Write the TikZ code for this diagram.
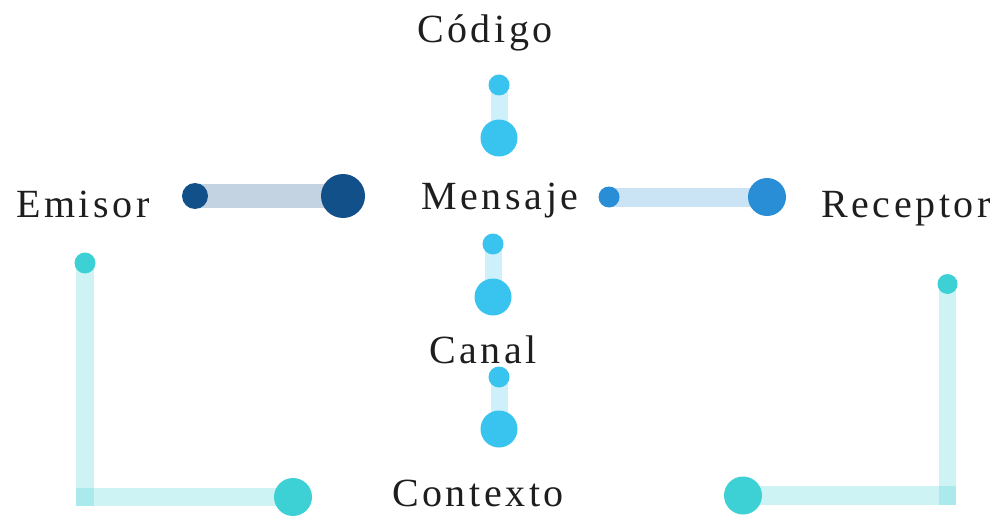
\documentclass[tikz,border=0pt]{standalone}
\usepackage{fontspec}
\setmainfont{Liberation Serif}[LetterSpace=9]
\definecolor{navy}{HTML}{12508A}
\definecolor{azure}{HTML}{2A8ED6}
\definecolor{sky}{HTML}{38C4EE}
\definecolor{teal}{HTML}{3DD0D4}
\definecolor{ink}{HTML}{1E1E1E}
\begin{document}
\begin{tikzpicture}[x=1pt,y=-1pt,
  dot/.style={circle,fill=#1,draw=none,inner sep=0pt},
  small/.style={minimum size=21pt},
  big/.style={minimum size=37pt},
  bar/.style={draw=#1,opacity=0.25,line cap=butt},
  word/.style={anchor=base,font=\fontsize{40}{42}\selectfont,text=ink,inner sep=0pt}]
\useasboundingbox (0,0) rectangle (992,516);

% labels
\node[word] (codigo)   at (485,43)  {Código};
\node[word] (mensaje)  at (500,209) {Mensaje};
\node[word] (emisor)   at (83,217)  {Emisor};
\node[word] (receptor) at (906,217) {Receptor};
\node[word] (canal)    at (483,363) {Canal};
\node[word] (contexto) at (478,506) {Contexto};

% connector end points
\coordinate (e1) at (195,196);  \coordinate (e2) at (343,196);
\coordinate (r1) at (609,197);  \coordinate (r2) at (767,197);
\coordinate (c1) at (499,85);   \coordinate (c2) at (499,138);
\coordinate (m1) at (493,244);  \coordinate (m2) at (493,297);
\coordinate (k1) at (499,377);  \coordinate (k2) at (499,429);
\coordinate (l1) at (85,263);   \coordinate (lv) at (85,506);
\coordinate (lh) at (76,497);   \coordinate (l2) at (293,497);
\coordinate (g1) at (947.5,284); \coordinate (gv) at (947.5,505);
\coordinate (gh) at (956,495.5); \coordinate (g2) at (743,495.5);

% bars
\draw[bar=navy,line width=24pt]  (e1) -- (e2);
\draw[bar=azure,line width=19pt] (r1) -- (r2);
\draw[bar=sky,line width=17pt]   (c1) -- (c2);
\draw[bar=sky,line width=17pt]   (m1) -- (m2);
\draw[bar=sky,line width=17pt]   (k1) -- (k2);
\draw[bar=teal,line width=18pt]  (l1) -- (lv);
\draw[bar=teal,line width=18pt]  (lh) -- (l2);
\draw[bar=teal,line width=17pt]  (g1) -- (gv);
\draw[bar=teal,line width=19pt]  (gh) -- (g2);

% end dots
\node[dot=navy,minimum size=26pt] (es) at (e1) {};
\node[dot=navy,minimum size=44pt] (eb) at (e2) {};
\node[dot=azure,small] (rs) at (r1) {};
\node[dot=azure,minimum size=38pt] (rb) at (r2) {};
\node[dot=sky,small] (cs) at (c1) {};
\node[dot=sky,big] (cb) at (c2) {};
\node[dot=sky,small] (ms) at (m1) {};
\node[dot=sky,big] (mb) at (m2) {};
\node[dot=sky,small] (ks) at (k1) {};
\node[dot=sky,big] (kb) at (k2) {};
\node[dot=teal,small] (ls) at (l1) {};
\node[dot=teal,minimum size=38pt] (lb) at (l2) {};
\node[dot=teal,minimum size=20pt] (gs) at (g1) {};
\node[dot=teal,minimum size=38pt] (gb) at (g2) {};
\end{tikzpicture}
\end{document}
